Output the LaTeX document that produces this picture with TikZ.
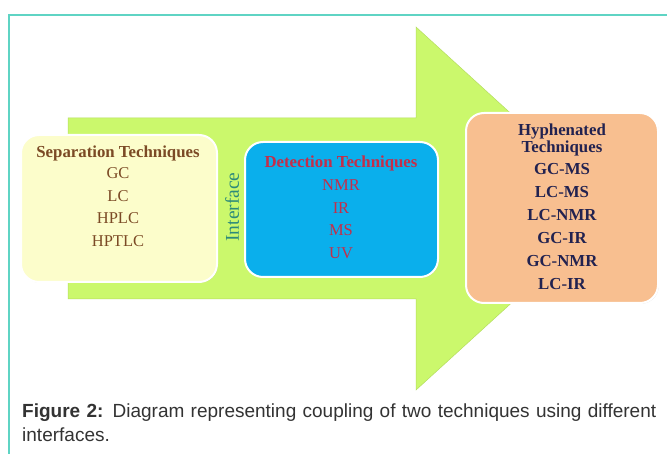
\documentclass[tikz,border=0pt]{standalone}
\usepackage{fontspec}
\setmainfont{Liberation Serif}
\newfontfamily\capfont{Liberation Sans}
\usetikzlibrary{shadows}
\definecolor{sepFill}{HTML}{FCFDCB}
\definecolor{sepText}{HTML}{7B4A25}
\definecolor{detFill}{HTML}{0AAFEC}
\definecolor{detText}{HTML}{C42E4A}
\definecolor{hypFill}{HTML}{F8BF90}
\definecolor{hypText}{HTML}{222250}
\definecolor{arrowCol}{HTML}{CBF86C}
\definecolor{arrowEdge}{HTML}{B5DD60}
\definecolor{ifaceCol}{HTML}{2D8A7A}
\definecolor{frameCol}{HTML}{5FD4C4}
\definecolor{capCol}{HTML}{333333}
\begin{document}
\begin{tikzpicture}[x=1pt,y=-1pt,
  panel/.style={rounded corners=18pt, draw=white, line width=2pt, inner sep=0pt,
    drop shadow={opacity=0.25, shadow xshift=0.8pt, shadow yshift=-0.8pt}},
  boxfont/.style={font=\fontsize{16.5}{18}\selectfont},
  titlefont/.style={font=\bfseries\fontsize{16.8}{18}\selectfont},
  sepline/.style={anchor=base, text=sepText, boxfont},
  septitle/.style={anchor=base, text=sepText, titlefont},
  detline/.style={anchor=base, text=detText, boxfont},
  dettitle/.style={anchor=base, text=detText, titlefont},
  hypline/.style={anchor=base, text=hypText, font=\bfseries\fontsize{16.8}{18}\selectfont},
  hyptitle/.style={anchor=base, text=hypText, titlefont},
  inner sep=0pt]
\useasboundingbox (0,0) rectangle (667,454);
\fill[white] (0,0) rectangle (667,454);
% frame lines
\draw[frameCol, line width=1.5pt] (9,454) -- (9,15) -- (667,15);
% big arrow
\filldraw[fill=arrowCol, draw=arrowEdge, line width=0.5pt]
  (68,118) -- (416,118) -- (416,27) -- (615,208.5) -- (416,390) -- (416,299) -- (68,299) -- cycle;
% panels
\node[panel, fill=sepFill, minimum width=196pt, minimum height=147pt] (sep) at (119,208.5) {};
\node[panel, fill=detFill, minimum width=193pt, minimum height=135pt] (det) at (341.5,209.5) {};
\node[panel, fill=hypFill, minimum width=192pt, minimum height=190pt] (hyp) at (562,208) {};
% separation texts
\node[septitle] (s0) at (118,158) {Separation Techniques};
\node[sepline] (s1) at (118,179) {GC};
\node[sepline] (s2) at (118,202) {LC};
\node[sepline] (s3) at (118,224) {HPLC};
\node[sepline] (s4) at (118,247) {HPTLC};
% interface
\node[rotate=90, text=ifaceCol, font=\fontsize{19.5}{20}\selectfont] (iface) at (232,207) {Interface};
% detection texts
\node[dettitle] (d0) at (341,168) {Detection Techniques};
\node[detline] (d1) at (341,191) {NMR};
\node[detline] (d2) at (341,214) {IR};
\node[detline] (d3) at (341,236) {MS};
\node[detline] (d4) at (341,259) {UV};
% hyphenated texts
\node[hyptitle] (h0) at (562,136) {Hyphenated};
\node[hyptitle] (h1) at (562,153) {Techniques};
\node[hypline] (h2) at (562,175) {GC-MS};
\node[hypline] (h3) at (562,198) {LC-MS};
\node[hypline] (h4) at (562,221) {LC-NMR};
\node[hypline] (h5) at (562,244) {GC-IR};
\node[hypline] (h6) at (562,267) {GC-NMR};
\node[hypline] (h7) at (562,290) {LC-IR};
% caption
\node[anchor=north west, text width=634pt, align=justify, text=capCol,
  font=\capfont\fontsize{19}{24}\selectfont] (cap) at (22,404)
  {\hyphenpenalty=10000\exhyphenpenalty=10000\textbf{Figure 2:} Diagram representing coupling of two techniques using different interfaces.};
\end{tikzpicture}
\end{document}
